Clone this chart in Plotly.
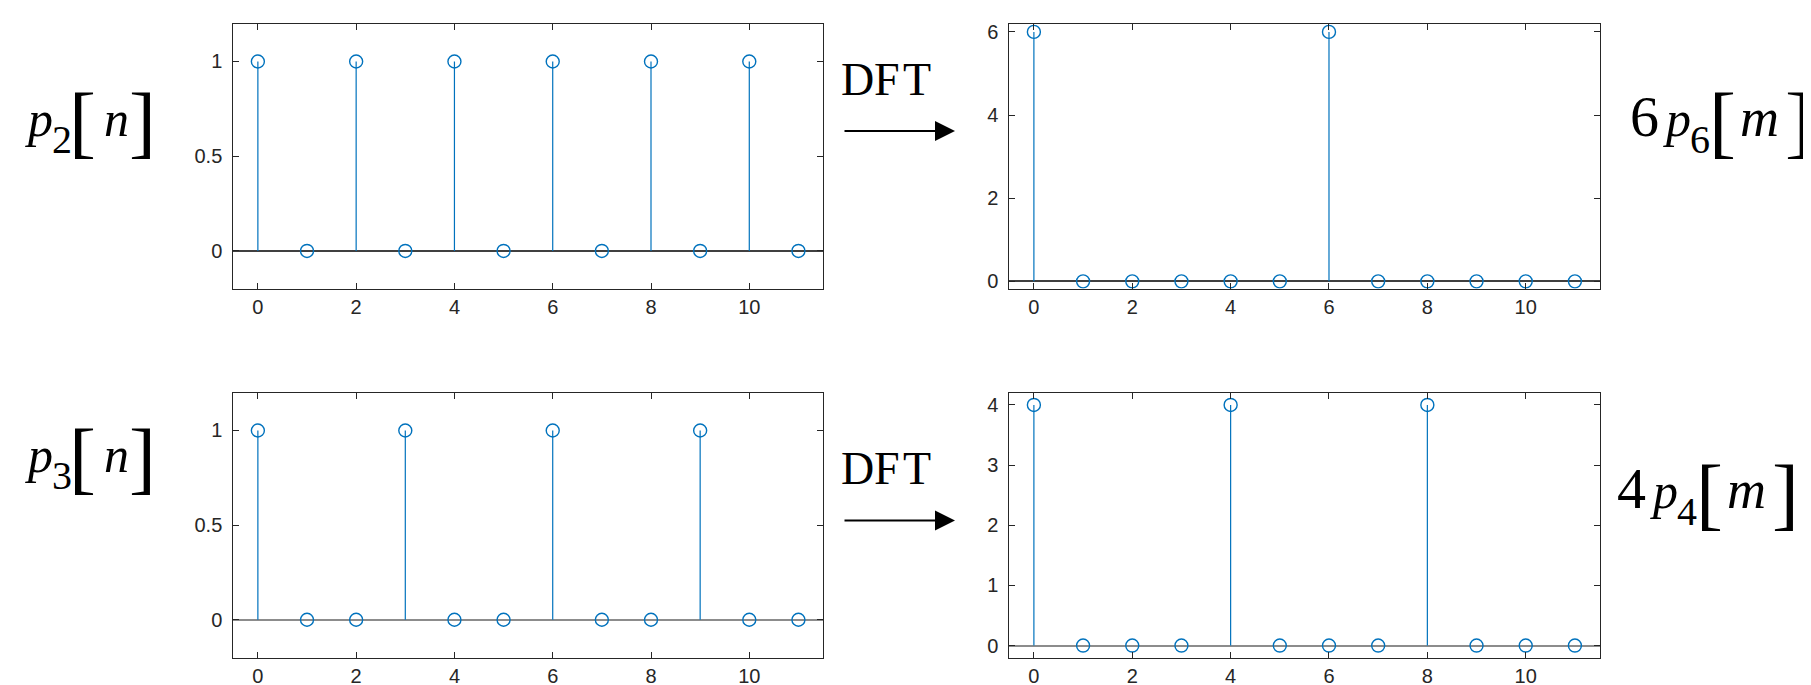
import plotly.graph_objects as go

# ---- data ----
n = list(range(12))
p2 = [1, 0, 1, 0, 1, 0, 1, 0, 1, 0, 1, 0]
P2 = [6, 0, 0, 0, 0, 0, 6, 0, 0, 0, 0, 0]
p3 = [1, 0, 0, 1, 0, 0, 1, 0, 0, 1, 0, 0]
P3 = [4, 0, 0, 0, 4, 0, 0, 0, 4, 0, 0, 0]

yticks_p = [0, 0.5, 1]
yticks_P2 = [0, 2, 4, 6]
yticks_P3 = [0, 1, 2, 3, 4]
xticks = [0, 2, 4, 6, 8, 10]

W, H = 1811, 685
BLUE = "#0072BD"
AX = "#262626"


def px_x(a, b):
    return [a / W, b / W]


def px_y(top, bottom):
    return [1 - bottom / H, 1 - top / H]


panels = [
    # (values, yticks, yrange, xdomain, ydomain, baseline color)
    (p2, yticks_p, [-0.2, 1.2], px_x(225.3, 815), px_y(12.7, 280.3), "#404040"),
    (P2, yticks_P2, [-0.18, 6.2], px_x(1001.3, 1591.5), px_y(12.7, 280.3), "#404040"),
    (p3, yticks_p, [-0.2, 1.2], px_x(225.3, 815), px_y(385, 652.3), "#8c8c8c"),
    (P3, yticks_P3, [-0.2, 4.2], px_x(1001.3, 1591.5), px_y(385.3, 652.3), "#8c8c8c"),
]

fig = go.Figure()
layout = {}
for i, (vals, yt, yr, xd, yd, bcol) in enumerate(panels, start=1):
    xa = "x" if i == 1 else f"x{i}"
    ya = "y" if i == 1 else f"y{i}"
    # stems built from the data
    sx, sy = [], []
    for xi, v in zip(n, vals):
        if v != 0:
            sx += [xi, xi, None]
            sy += [0, v, None]
    fig.add_trace(go.Scatter(x=sx, y=sy, mode="lines", xaxis=xa, yaxis=ya,
                             line=dict(color=BLUE, width=1.2), showlegend=False,
                             hoverinfo="skip"))
    fig.add_trace(go.Scatter(x=n, y=vals, mode="markers", xaxis=xa, yaxis=ya,
                             marker=dict(symbol="circle-open", size=13,
                                         color=BLUE, line=dict(width=1.4)),
                             showlegend=False))
    common = dict(showline=True, linecolor=AX, linewidth=1, mirror="allticks",
                  ticks="inside", ticklen=6, tickwidth=1, tickcolor=AX,
                  showgrid=False,
                  tickfont=dict(family="Liberation Sans", size=20, color=AX))
    layout["xaxis" if i == 1 else f"xaxis{i}"] = dict(
        domain=xd, range=[-0.5, 11.5], tickvals=xticks, zeroline=False,
        anchor=ya, ticklabelstandoff=0, **common)
    layout["yaxis" if i == 1 else f"yaxis{i}"] = dict(
        domain=yd, range=yr, tickvals=yt, zeroline=True, zerolinecolor=bcol,
        zerolinewidth=1.6, anchor=xa, ticklabelstandoff=6, **common)

fig.update_layout(**layout)

SERIF = "Liberation Serif"
MID = 0.3375  # box centre above baseline, in em
OFFX, OFFY = -7, -7  # measured rendering offset


def piece(text, xc, baseline, size):
    fig.add_annotation(text=text, x=(xc + OFFX) / W,
                       y=1 - (baseline - MID * size + OFFY) / H,
                       xref="paper", yref="paper", showarrow=False,
                       xanchor="center", yanchor="middle",
                       font=dict(family=SERIF, size=size, color="black"))


def bracket(ch, xc, top, bottom):
    size = (bottom - top) / 0.84
    base = bottom - 0.156 * size
    piece(ch, xc, base, size)


def seq_label(lead, sub, var, dx, dy, left):
    b, bs = 133 + dy, 150 + dy
    if left:
        piece("<i>p</i>", 38 + dx, b, 50)
        piece(sub, 60.5 + dx, bs, 40)
        bracket("[", 81 + dx, 90 + dy, 158 + dy)
        piece(f"<i>{var}</i>", 115 + dx, b, 50)
        bracket("]", 141 + dx, 90 + dy, 158 + dy)
    else:
        piece(lead, 1643.5 + dx, b, 58)
        piece("<i>p</i>", 1676 + dx, b, 50)
        piece(sub, 1699 + dx, bs, 40)
        bracket("[", 1721 + dx, 90 + dy, 158 + dy)
        piece(f"<i>{var}</i>", 1758.5 + dx, b, 54)
        bracket("]", 1797.5 + dx, 90 + dy, 158 + dy)


seq_label("", "2", "n", 0, 0, True)
seq_label("", "3", "n", 0, 339, True)
seq_label("6", "6", "m", 0, 0, False)
seq_label("4", "4", "m", -13, 375, False)

for dy in (0, 392):
    for ch, xc in (("D", 856), ("F", 886), ("T", 916)):
        piece(ch, xc, 92 + dy, 46)

for yy in (121, 514):
    fig.add_annotation(x=947 / W, y=1 - yy / H, xref="paper", yref="paper",
                       ax=-112, ay=0, text="", showarrow=True, arrowhead=2,
                       arrowsize=2, arrowwidth=2, arrowcolor="black",
                       font=dict(size=12))

fig.update_layout(width=W, height=H, margin=dict(l=0, r=0, t=0, b=0),
                  paper_bgcolor="white", plot_bgcolor="white")
fig.write_html("out.html")
